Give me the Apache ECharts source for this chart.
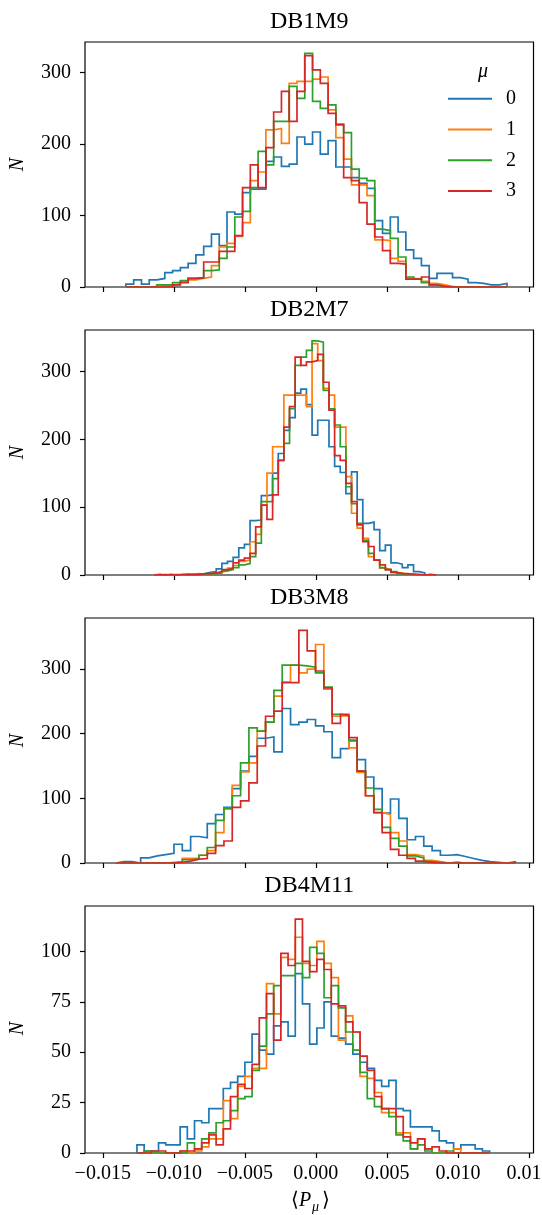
<!DOCTYPE html>
<html><head><meta charset="utf-8">
<script src="https://cdn.jsdelivr.net/npm/echarts@6/dist/echarts.min.js"></script>
<style>html,body{margin:0;padding:0;background:#fff}#c{width:542px;height:1215px}</style>
</head><body><div id="c"></div>
<script>
// ---------- data ----------
const panelTitles = ['DB1M9', 'DB2M7', 'DB3M8', 'DB4M11'];
const seriesNames = ['0', '1', '2', '3'];
const colors = ['#1f77b4', '#ff7f0e', '#2ca02c', '#d62728'];
const xTicks = [-0.015, -0.010, -0.005, 0.000, 0.005, 0.010, 0.015];
const yTicksA = [0, 100, 200, 300];
const yTicksB = [0, 25, 50, 75, 100];
const yMax = [343, 361, 379, 122.5];
const xMin = -0.01625, xMax = 0.01532;

// histogram bin grids (first edge, bin width) per panel
const binStart = [-0.01337, -0.011377, -0.01409, -0.012594];
const binWidth = [0.0005474, 0.0003968, 0.0005861, 0.0005066];

// DB1M9 counts
const p1_mu0 = [4,10,4,10,12,20,23,27,33,45, 57,74,58,105,102,132,137,137,176,182, 169,172,210,200,217,186,205,168,168,153, 145,138,93,75,98,77,52,40,30,12, 19,19,13,11,6,5,3,3,5];
const p1_mu1 = [0,0,0,1,2,2,4,7,10,12, 14,30,56,61,71,90,149,161,220,222, 201,285,288,288,291,294,248,209,179,143, 143,128,66,65,40,36,12,11,8,5, 3,1,0,0,0,0,0,0,0];
const p1_mu2 = [0,0,0,0,3,3,6,9,12,13, 23,24,40,56,98,106,139,190,171,232, 232,281,264,327,260,250,255,228,216,165, 152,149,81,79,68,42,14,11,6,3, 1,0,0,0,0,0,0,0,0];
const p1_mu3 = [0,0,0,0,0,0,3,6,12,13, 35,35,50,50,72,139,171,139,195,245, 274,232,274,324,304,285,243,227,153,149, 118,88,70,51,33,32,11,11,14,3, 1,0,0,0,0,0,0,0,0];

// DB2M7 counts
const p2_mu0 = [0,0,0,0,0,0,1,1,2,4, 5,9,17,20,26,40,45,80,81,117, 118,150,179,213,232,268,274,251,206,228, 228,189,160,151,120,152,111,76,78,67, 36,44,18,16,11,15,5,3,0,0];
const p2_mu1 = [0,1,0,1,0,1,1,2,1,2, 3,4,6,10,14,20,22,49,60,103, 150,189,189,265,265,265,265,248,341,316, 275,265,218,218,145,91,69,54,27,22, 10,8,4,3,1,1,0,0,0,0];
const p2_mu2 = [0,0,0,0,0,1,0,1,1,2, 2,3,6,8,11,15,17,27,47,108, 108,142,169,194,245,309,321,331,345,343, 272,245,221,189,130,105,76,51,32,22, 11,8,5,2,1,1,0,0,0,0];
const p2_mu3 = [1,0,1,0,1,1,1,1,2,2, 3,5,8,10,18,22,25,32,71,103, 82,118,169,218,248,321,309,314,316,325, 284,243,176,169,135,108,74,49,42,22, 15,8,4,2,2,1,1,0,1,0];

// DB3M8 counts
const p3_mu0 = [2,2,0,8,11,13,15,29,19,41, 39,61,75,86,115,142,165,193,195,172, 239,214,218,222,212,203,163,177,189,160, 133,115,77,99,69,36,41,26,19,12, 13,10,7,4,2,1,0,2];
const p3_mu1 = [0,0,0,0,0,0,1,2,7,7, 12,19,47,84,120,141,155,204,218,258, 280,306,294,300,338,269,227,228,178,140, 104,78,75,47,34,13,11,4,2,0, 1,0,0,0,0,0,0,0];
const p3_mu2 = [0,0,0,0,0,0,0,1,5,6, 12,24,66,84,104,155,209,204,218,267, 306,306,305,303,294,272,230,228,190,142, 116,83,55,38,26,11,8,2,1,0, 1,0,0,0,0,0,0,0];
const p3_mu3 = [0,0,0,0,0,0,0,1,3,6, 7,15,27,34,86,96,124,181,227,235, 279,279,360,328,297,271,216,230,194,142, 104,78,47,21,12,7,3,1,0,0, 0,0,0,0,0,0,0,0];

// DB4M11 counts
const p4_mu0 = [4,1,1,5,4,4,13,7,16,15, 22,22,32,35,38,45,59,51,49,63, 65,58,89,74,54,62,75,58,57,54, 49,45,42,36,33,36,22,21,13,13, 13,11,6,5,2,4,4,2,1];
const p4_mu1 = [0,0,0,0,0,0,1,0,1,3, 7,7,26,17,33,38,42,42,84,69, 97,96,107,94,93,105,94,87,56,68, 60,38,37,30,20,20,10,10,2,7, 2,0,0,0,2,0,0,0,0];
const p4_mu2 = [0,1,0,0,0,0,0,5,2,7, 10,15,16,21,27,28,41,53,69,83, 88,88,94,87,102,99,77,83,72,60, 51,40,27,23,22,18,9,6,2,4, 1,0,0,1,0,0,0,0,0];
const p4_mu3 = [0,0,1,1,0,0,1,1,2,5, 9,4,12,28,34,32,44,67,79,56, 99,93,116,95,90,96,91,74,73,65, 60,48,41,28,22,22,18,8,5,7, 2,3,1,0,0,0,0,0,0];

const panelCounts = [
  [p1_mu0, p1_mu1, p1_mu2, p1_mu3],
  [p2_mu0, p2_mu1, p2_mu2, p2_mu3],
  [p3_mu0, p3_mu1, p3_mu2, p3_mu3],
  [p4_mu0, p4_mu1, p4_mu2, p4_mu3]
];

// ---------- layout ----------
const FONT = '"Liberation Serif", "Times New Roman", serif';
const gridLeft = 85, gridRight = 8.5, gridH = 245;
const tops = [42, 330, 618, 906];
const plotCx = gridLeft + (542 - gridLeft - gridRight) / 2;

function stepPoints(start, w, counts) {
  const pts = [[start, 0]];
  for (let i = 0; i < counts.length; i++) {
    const a = start + i * w, b = start + (i + 1) * w;
    pts.push([a, counts[i]]);
    pts.push([b, counts[i]]);
  }
  pts.push([start + counts.length * w, 0]);
  return pts;
}

const fmtX = v => (v < -1e-12 ? '\u2212' : '') + Math.abs(v).toFixed(3);

const grids = [], xAxes = [], yAxes = [], series = [], graphics = [];
for (let p = 0; p < 4; p++) {
  grids.push({left: gridLeft, right: gridRight, top: tops[p], height: p === 3 ? 247 : gridH,
    containLabel: false, outerBoundsMode: 'none',
    show: true, borderColor: '#000', borderWidth: 1.2, backgroundColor: 'transparent'});
  xAxes.push({type: 'value', gridIndex: p, min: xMin, max: xMax,
    axisLine: {show: false, onZero: false},
    axisTick: {show: true, length: 5, lineStyle: {color: '#000', width: 1.2}, customValues: xTicks},
    axisLabel: {show: p === 3, customValues: xTicks, formatter: fmtX, fontFamily: FONT, fontSize: 20, color: '#000', margin: 11,
      alignMinLabel: 'center', alignMaxLabel: 'center', hideOverlap: false},
    splitLine: {show: false}});
  const yt = p === 3 ? yTicksB : yTicksA;
  yAxes.push({type: 'value', gridIndex: p, min: 0, max: yMax[p],
    axisLine: {show: false, onZero: false},
    axisTick: {show: true, length: 5, lineStyle: {color: '#000', width: 1.2}, customValues: yt},
    axisLabel: {customValues: yt, fontFamily: FONT, fontSize: 20, color: '#000', margin: 14},
    splitLine: {show: false}});
  for (let m = 0; m < 4; m++) {
    series.push({type: 'line', name: seriesNames[m], xAxisIndex: p, yAxisIndex: p,
      data: stepPoints(binStart[p], binWidth[p], panelCounts[p][m]),
      showSymbol: false, symbol: 'none', clip: true,
      lineStyle: {color: colors[m], width: 1.7, join: 'miter'},
      itemStyle: {color: colors[m]}, animation: false, silent: true});
  }
  graphics.push({type: 'text', x: plotCx, y: tops[p] - 20,
    style: {text: panelTitles[p], align: 'center', verticalAlign: 'middle', fontFamily: FONT, fontSize: 24, fill: '#000'}});
  graphics.push({type: 'text', x: 18, y: tops[p] + 122.5, rotation: Math.PI / 2,
    style: {text: 'N', align: 'center', verticalAlign: 'middle', fontFamily: FONT, fontSize: 20, fontStyle: 'italic', fill: '#000'}});
}
// legend title
graphics.push({type: 'text', x: 483, y: 72,
  style: {text: '\u03bc', align: 'center', verticalAlign: 'middle', fontFamily: FONT, fontSize: 20, fontStyle: 'italic', fill: '#000'}});
// x-axis label  <P_mu>
graphics.push({type: 'text', x: 291, y: 1201, style: {text: '\u27e8', align: 'left', verticalAlign: 'middle', fontFamily: FONT, fontSize: 20, fill: '#000'}});
graphics.push({type: 'text', x: 299, y: 1201, style: {text: 'P', align: 'left', verticalAlign: 'middle', fontFamily: FONT, fontSize: 20, fontStyle: 'italic', fill: '#000'}});
graphics.push({type: 'text', x: 312, y: 1207, style: {text: '\u03bc', align: 'left', verticalAlign: 'middle', fontFamily: FONT, fontSize: 14, fontStyle: 'italic', fill: '#000'}});
graphics.push({type: 'text', x: 322, y: 1201, style: {text: '\u27e9', align: 'left', verticalAlign: 'middle', fontFamily: FONT, fontSize: 20, fill: '#000'}});

const chart = echarts.init(document.getElementById('c'), null, {renderer: 'canvas'});
chart.setOption({
  animation: false,
  backgroundColor: '#fff',
  grid: grids, xAxis: xAxes, yAxis: yAxes, series: series,
  legend: {show: true, left: 448, top: 88.7, padding: 0, orient: 'vertical', itemWidth: 44, itemHeight: 2,
    itemGap: 10.8, icon: 'rect', selectedMode: false, data: seriesNames,
    textStyle: {fontFamily: FONT, fontSize: 20, color: '#000', lineHeight: 20, padding: [0, 0, 0, 9]}},
  graphic: graphics
});
</script>
</body></html>
